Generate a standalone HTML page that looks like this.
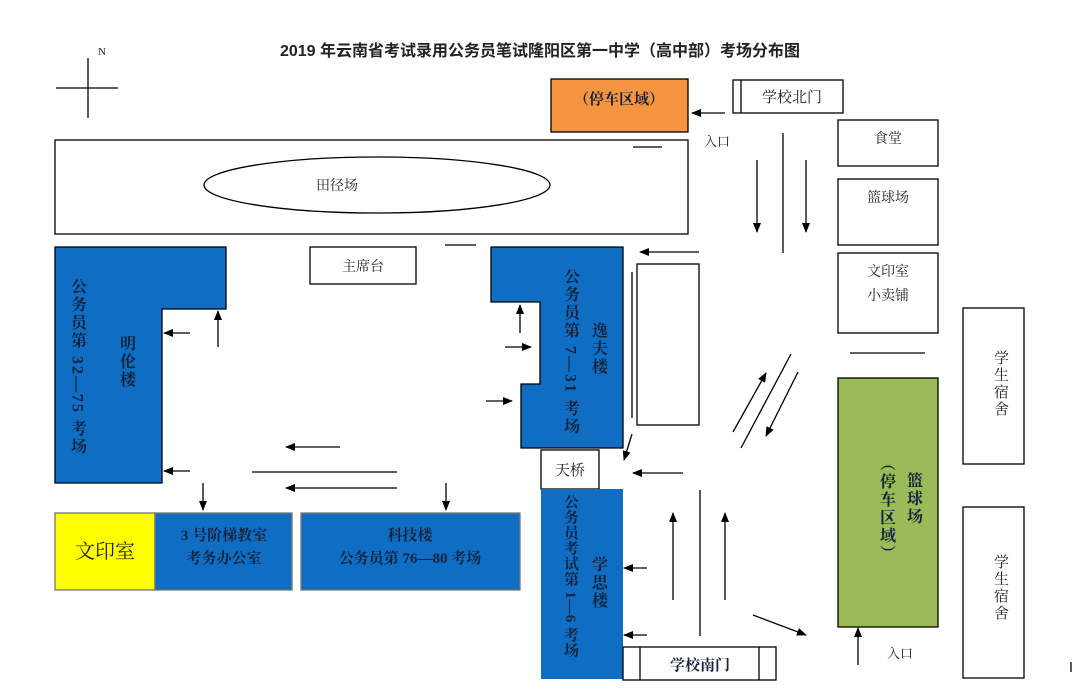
<!DOCTYPE html>
<html><head><meta charset="utf-8"><style>
html,body{margin:0;padding:0;background:#fff;width:1080px;height:699px;overflow:hidden}
svg text{font-family:"Liberation Serif","Noto Serif CJK SC","Noto Sans CJK SC",serif;fill:#222}
.v{writing-mode:vertical-rl;text-orientation:upright;letter-spacing:2px}
.b{font-weight:bold;fill:#14233c}
</style></head><body>
<svg width="1080" height="699" viewBox="0 0 1080 699" xmlns="http://www.w3.org/2000/svg">
<defs><marker id="a" markerWidth="10" markerHeight="8" refX="9" refY="4" orient="auto" markerUnits="userSpaceOnUse"><path d="M0,0L10,4L0,8z" fill="#000"/></marker></defs>
<g stroke="#000" stroke-width="1.3" fill="none">
<text x="540" y="56" text-anchor="middle" font-size="16" font-weight="bold" stroke="none" style="font-family:'Liberation Sans','Noto Sans CJK SC',sans-serif">2019 年云南省考试录用公务员笔试隆阳区第一中学（高中部）考场分布图</text>
<text x="98" y="55" font-size="11" stroke="none">N</text>
<line x1="56" y1="88" x2="118" y2="88"/><line x1="88" y1="58" x2="88" y2="118"/>
<rect x="551" y="79" width="137" height="53" fill="#f7943f"/>
<text x="619" y="104" text-anchor="middle" font-size="15" class="b" stroke="none">（停车区域）</text>
<rect x="733" y="80" width="110" height="33"/><line x1="741" y1="80" x2="741" y2="113"/>
<text x="792" y="102" text-anchor="middle" font-size="15" stroke="none" fill="#444">学校北门</text>
<line x1="725" y1="113" x2="692" y2="113" marker-end="url(#a)"/>
<text x="704" y="146" font-size="13" stroke="none">入口</text>
<line x1="633" y1="147" x2="662" y2="147"/>
<rect x="55" y="140" width="633" height="94"/>
<ellipse cx="377" cy="185" rx="173" ry="28"/>
<text x="337" y="190" font-size="14" text-anchor="middle" stroke="none">田径场</text>
<rect x="838" y="120" width="100" height="46"/><text x="888" y="143" font-size="14" text-anchor="middle" stroke="none">食堂</text>
<rect x="838" y="179" width="100" height="66"/><text x="888" y="202" font-size="14" text-anchor="middle" stroke="none">篮球场</text>
<rect x="838" y="253" width="100" height="80"/><text x="888" y="276" font-size="14" text-anchor="middle" stroke="none">文印室</text><text x="888" y="300" font-size="14" text-anchor="middle" stroke="none">小卖铺</text>
<line x1="850" y1="353" x2="925" y2="353"/>
<rect x="963" y="308" width="61" height="156"/><text x="1000" y="350" font-size="15" class="v" stroke="none">学生宿舍</text>
<rect x="963" y="507" width="61" height="171"/><text x="1000" y="554" font-size="15" class="v" stroke="none">学生宿舍</text>
<rect x="838" y="378" width="100" height="249" fill="#9bbb59"/>
<text x="913" y="472" font-size="16" class="v b" stroke="none">篮球场</text>
<text x="886" y="455" font-size="16" class="v b" stroke="none" style="text-orientation:mixed">（停车区域）</text>
<line x1="757" y1="160" x2="757" y2="232" marker-end="url(#a)"/>
<line x1="806" y1="160" x2="806" y2="232" marker-end="url(#a)"/>
<line x1="783" y1="133" x2="783" y2="253"/>
<path d="M55,247H226V309H162V483H55Z" fill="#0f6ec4"/>
<text x="77" y="278" font-size="16" class="v b" stroke="none" style="text-orientation:mixed">公务员第 32—75 考场</text>
<text x="126" y="335" font-size="16" class="v b" stroke="none">明伦楼</text>
<rect x="310" y="247" width="106" height="37"/><text x="363" y="271" font-size="14" text-anchor="middle" stroke="none">主席台</text>
<line x1="445" y1="245" x2="476" y2="245"/>
<path d="M491,247H623V448H521V384H540V302H491Z" fill="#0f6ec4"/>
<text x="570" y="268" font-size="16" class="v b" stroke="none" style="text-orientation:mixed">公务员第 7—31 考场</text>
<text x="598" y="322" font-size="16" class="v b" stroke="none">逸夫楼</text>
<rect x="541" y="450" width="58" height="39"/><text x="570" y="475" font-size="15" text-anchor="middle" stroke="none" fill="#444">天桥</text>
<rect x="541" y="489" width="82" height="190" fill="#0f6ec4" stroke="none"/>
<text x="570" y="494" font-size="15" class="v b" stroke="none" style="text-orientation:mixed;letter-spacing:0.5px">公务员考试第 1—6 考场</text>
<text x="598" y="556" font-size="16" class="v b" stroke="none">学思楼</text>
<rect x="637" y="264" width="62" height="161"/><line x1="632" y1="272" x2="632" y2="418"/>
<line x1="699" y1="252" x2="640" y2="252" marker-end="url(#a)"/>
<line x1="632" y1="434" x2="624" y2="460" marker-end="url(#a)"/>
<line x1="683" y1="473" x2="633" y2="473" marker-end="url(#a)"/>
<rect x="623" y="647" width="153" height="33"/><line x1="640" y1="647" x2="640" y2="680"/><line x1="759" y1="647" x2="759" y2="680"/>
<text x="700" y="670" font-size="15" text-anchor="middle" class="b" stroke="none">学校南门</text>
<line x1="647" y1="568" x2="624" y2="568" marker-end="url(#a)"/>
<line x1="647" y1="635" x2="624" y2="635" marker-end="url(#a)"/>
<line x1="673" y1="600" x2="673" y2="513" marker-end="url(#a)"/>
<line x1="725" y1="600" x2="725" y2="513" marker-end="url(#a)"/>
<line x1="700" y1="490" x2="700" y2="636"/>
<line x1="733" y1="432" x2="766" y2="373" marker-end="url(#a)"/>
<line x1="741" y1="448" x2="791" y2="354"/>
<line x1="798" y1="372" x2="766" y2="436" marker-end="url(#a)"/>
<line x1="753" y1="615" x2="806" y2="635" marker-end="url(#a)"/>
<line x1="858" y1="665" x2="858" y2="628" marker-end="url(#a)"/>
<text x="887" y="658" font-size="13" stroke="none">入口</text>
<line x1="340" y1="447" x2="286" y2="447" marker-end="url(#a)"/>
<line x1="397" y1="488" x2="286" y2="488" marker-end="url(#a)"/>
<line x1="252" y1="472" x2="397" y2="472"/>
<line x1="190" y1="333" x2="164" y2="333" marker-end="url(#a)"/>
<line x1="190" y1="471" x2="164" y2="471" marker-end="url(#a)"/>
<line x1="218" y1="347" x2="218" y2="311" marker-end="url(#a)"/>
<line x1="203" y1="483" x2="203" y2="510" marker-end="url(#a)"/>
<line x1="446" y1="483" x2="446" y2="510" marker-end="url(#a)"/>
<line x1="520" y1="333" x2="520" y2="305" marker-end="url(#a)"/>
<line x1="505" y1="347" x2="531" y2="347" marker-end="url(#a)"/>
<line x1="486" y1="401" x2="512" y2="401" marker-end="url(#a)"/>
<rect x="55" y="513" width="100" height="77" fill="#ffff00" stroke="#777"/>
<text x="105" y="558" font-size="20" text-anchor="middle" stroke="none">文印室</text>
<rect x="155" y="513" width="137" height="77" fill="#0f6ec4" stroke="#777"/>
<text x="224" y="540" font-size="15" text-anchor="middle" class="b" stroke="none">3 号阶梯教室</text>
<text x="224" y="563" font-size="15" text-anchor="middle" class="b" stroke="none">考务办公室</text>
<rect x="301" y="513" width="219" height="77" fill="#0f6ec4" stroke="#777"/>
<text x="410" y="540" font-size="15" text-anchor="middle" class="b" stroke="none">科技楼</text>
<text x="410" y="563" font-size="15" text-anchor="middle" class="b" stroke="none">公务员第 76—80 考场</text>
<line x1="1071" y1="662" x2="1071" y2="672"/>
</g>
</svg>
</body></html>
